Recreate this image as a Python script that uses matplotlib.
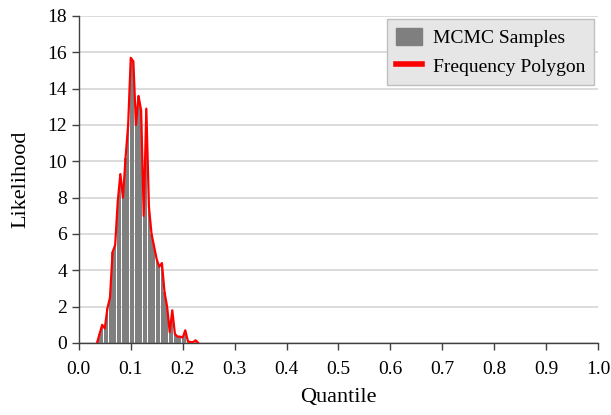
import matplotlib
matplotlib.use("Agg")
import matplotlib.pyplot as plt
from matplotlib.patches import Patch
from matplotlib.lines import Line2D

plt.rcParams['font.family'] = ['Liberation Serif', 'DejaVu Serif']

# bin centres (quantile) and likelihood values
quantile = [0.035, 0.040, 0.045, 0.050, 0.055, 0.060, 0.065, 0.070, 0.075, 0.080,
            0.085, 0.090, 0.095, 0.100, 0.105, 0.110, 0.115, 0.120, 0.125, 0.130,
            0.135, 0.140, 0.145, 0.150, 0.155, 0.160, 0.165, 0.170, 0.175, 0.180,
            0.185, 0.190, 0.195, 0.200, 0.205, 0.210, 0.215, 0.220, 0.225, 0.230]
likelihood = [0.0, 0.5, 1.0, 0.8, 1.9, 2.5, 5.0, 5.4, 7.8, 9.3,
              8.0, 10.2, 12.0, 15.7, 15.5, 12.0, 13.6, 12.8, 7.0, 12.9,
              7.5, 6.0, 5.3, 4.6, 4.2, 4.4, 2.8, 2.0, 0.6, 1.8,
              0.5, 0.35, 0.35, 0.3, 0.7, 0.1, 0.05, 0.05, 0.15, 0.0]

xticks = [0.0, 0.1, 0.2, 0.3, 0.4, 0.5, 0.6, 0.7, 0.8, 0.9, 1.0]
yticks = [0, 2, 4, 6, 8, 10, 12, 14, 16, 18]

fig = plt.figure(figsize=(6.11, 4.15), dpi=100)
ax = fig.add_axes([0.129, 0.1735, 0.850, 0.788])

ax.bar(quantile, likelihood, width=0.0043, color='#7f7f7f', edgecolor='none', zorder=2)
ax.plot(quantile, likelihood, color='#ff0000', lw=1.6, zorder=3)

ax.set_xlim(0, 1.0)
ax.set_ylim(0, 18)
ax.set_xticks(xticks)
ax.set_xticklabels([f"{t:.1f}" for t in xticks])
ax.set_yticks(yticks)
ax.grid(axis='y', color='#d9d9d9', lw=1.3, zorder=0)
ax.set_axisbelow(True)
for s in ['top', 'right']:
    ax.spines[s].set_visible(False)
for s in ['left', 'bottom']:
    ax.spines[s].set_color('#404040')
    ax.spines[s].set_linewidth(1.0)
ax.tick_params(axis='both', direction='out', length=5, width=1.0, color='#404040',
               labelsize=14, labelcolor='#000000')
ax.tick_params(axis='x', pad=8)
ax.set_xlabel('Quantile', fontsize=16, labelpad=7)
ax.set_ylabel('Likelihood', fontsize=16, labelpad=12)

handles = [Patch(facecolor='#7f7f7f', edgecolor='#7f7f7f'),
           Line2D([0], [0], color='#ff0000', lw=4)]
leg = ax.legend(handles, ['MCMC Samples', 'Frequency Polygon'], loc='upper right',
                bbox_to_anchor=(0.992, 0.99), fontsize=14, frameon=True, fancybox=False,
                handlelength=1.35, handleheight=0.95, handletextpad=0.55,
                borderpad=0.45, borderaxespad=0.0, labelspacing=0.5)
leg.get_frame().set_facecolor('#e6e6e6')
leg.get_frame().set_edgecolor('#bfbfbf')
leg.get_frame().set_alpha(1)

fig.savefig('out.png', dpi=100)
